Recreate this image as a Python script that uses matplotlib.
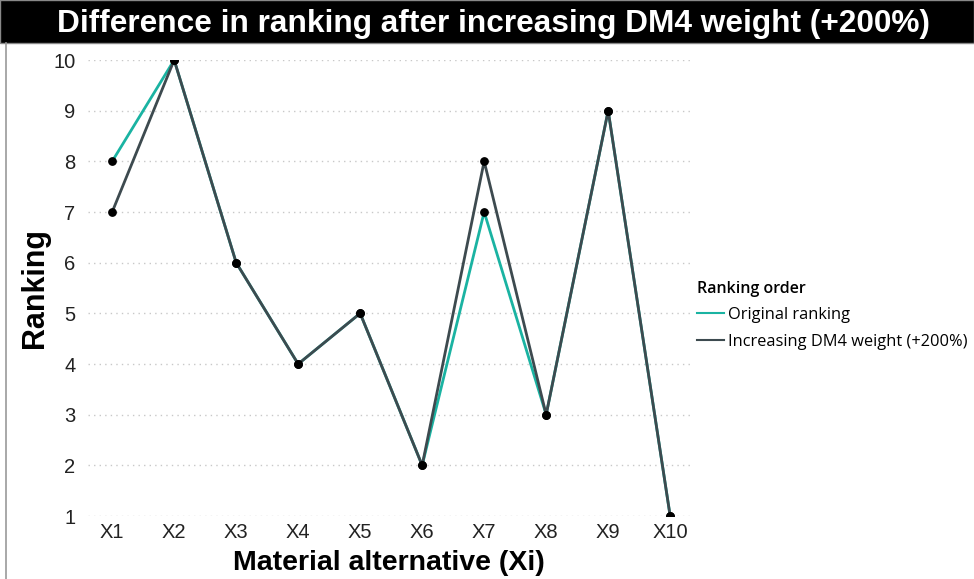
import matplotlib.pyplot as plt
from matplotlib.lines import Line2D
from matplotlib.patches import Rectangle

alternatives = ["X1", "X2", "X3", "X4", "X5", "X6", "X7", "X8", "X9", "X10"]
original_rank = [8, 10, 6, 4, 5, 2, 7, 3, 9, 1]
increased_rank = [7, 10, 6, 4, 5, 2, 8, 3, 9, 1]
rank_ticks = [1, 2, 3, 4, 5, 6, 7, 8, 9, 10]

teal = "#1ab3a2"
dark = "#3d4a4f"

fig = plt.figure(figsize=(9.74, 5.79), dpi=100)
W, H = 974, 579
ax = fig.add_axes([88 / W, 1 - 516 / H, (690 - 88) / W, (516 - 60) / H])

x = list(range(len(alternatives)))
ax.plot(x, original_rank, color=teal, lw=2, zorder=3)
ax.plot(x, increased_rank, color=dark, lw=2, zorder=4)
ax.scatter(x, original_rank, s=28, color="black", zorder=5)
ax.scatter(x, increased_rank, s=28, color="black", zorder=5)

ax.set_xlim(-0.39, 9.32)
ax.set_ylim(1, 10)
ax.set_yticks(rank_ticks)
ax.set_xticks(x)
ax.set_xticklabels(alternatives)
ax.tick_params(length=0, labelsize=14.5, labelcolor="#222222")
ax.tick_params(axis="y", pad=9)
ax.tick_params(axis="x", pad=5)
for lab in ax.get_xticklabels() + ax.get_yticklabels():
    lab.set_family("Liberation Sans")
for s in ax.spines.values():
    s.set_visible(False)
ax.grid(axis="y", linestyle=(0, (1, 3)), color="#c8c8c8", lw=1)
ax.set_axisbelow(True)

ax.set_xlabel("Material alternative (Xi)", fontsize=20.5, fontweight="bold",
              family="Liberation Sans", labelpad=6)
ax.set_ylabel("Ranking", fontsize=22, fontweight="bold", family="Liberation Sans",
              labelpad=2)

# title bar
fig.patches.append(Rectangle((0, 1 - 43 / H), 1, 43 / H, transform=fig.transFigure,
                             facecolor="black", edgecolor="#888888", lw=1))
fig.text(493 / W, 1 - 24 / H, "Difference in ranking after increasing DM4 weight (+200%)",
         ha="center", va="center", color="white", fontsize=22.8, fontweight="bold",
         family="Liberation Sans")
fig.add_artist(Line2D([6 / W, 6 / W], [0, 1 - 43 / H], color="#9a9a9a", lw=1.2))

handles = [Line2D([], [], color=teal, lw=1.5), Line2D([], [], color=dark, lw=1.5)]
leg = fig.legend(handles, ["Original ranking", "Increasing DM4 weight (+200%)"],
                 title="Ranking order", loc="upper left",
                 bbox_to_anchor=(690 / W, 1 - 274 / H), frameon=False,
                 prop={"family": "Open Sans", "size": 11.8},
                 handlelength=1.7, handletextpad=0.2, labelspacing=0.65,
                 borderaxespad=0, alignment="left")
leg.get_title().set_fontsize(11.5)
leg.get_title().set_fontweight("semibold")
leg.get_title().set_family("Open Sans")

fig.savefig("out.png", dpi=100)
